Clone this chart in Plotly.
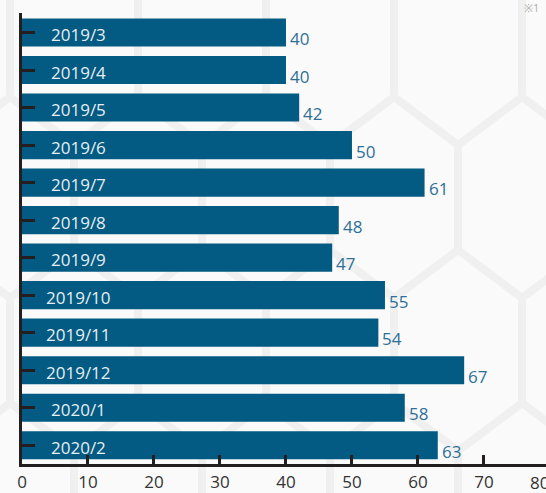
import plotly.graph_objects as go

# ---- data ----
months = ["2019/3", "2019/4", "2019/5", "2019/6", "2019/7", "2019/8",
          "2019/9", "2019/10", "2019/11", "2019/12", "2020/1", "2020/2"]
values = [40, 40, 42, 50, 61, 48, 47, 55, 54, 67, 58, 63]
x_ticks = [0, 10, 20, 30, 40, 50, 60, 70]
extra_tick = 80
note = "※1"

# ---- style ----
W, H = 546, 493
ML, MR, MT, MB = 22, 0, 13, 29
XMAX = 79.4
FONT = "Open Sans"
BAR = "#035a82"
VAL = "#2e6f97"
AX = "#231f20"

fig = go.Figure()
fig.add_trace(go.Bar(
    y=months, x=values, orientation="h",
    marker=dict(color=BAR, line=dict(width=0)),
    width=0.75, hoverinfo="x+y",
))

# category labels inside bars
for m in months:
    fig.add_annotation(x=0, y=m, xref="x", yref="y", text=m, showarrow=False,
                       xanchor="center", yanchor="middle", xshift=56, yshift=-2,
                       font=dict(family=FONT, size=17, color="#e6eef3"))
# value labels
for m, v in zip(months, values):
    fig.add_annotation(x=v, y=m, xref="x", yref="y", text=str(v), showarrow=False,
                       xanchor="left", yanchor="middle", xshift=2, yshift=-6,
                       font=dict(family=FONT, size=17, color=VAL))

# clipped "80" tick label at the right edge (outside the axis range)
fig.add_annotation(x=extra_tick / XMAX, y=0, xref="paper", yref="paper",
                   text=str(extra_tick), showarrow=False, xanchor="center",
                   yanchor="top", yshift=-5, xshift=-10,
                   font=dict(family=FONT, size=17, color="#333333"))
fig.add_annotation(x=1, y=1, xref="paper", yref="paper", text=note, showarrow=False,
                   xanchor="right", yanchor="middle", xshift=-5, yshift=6,
                   font=dict(family=FONT, size=11, color="#aaaaaa"))

# honeycomb background decoration (pixel geometry -> paper coords)
pw = W - ML - MR
ph = H - MT - MB
def P(px, py):
    return (px - ML) / pw, (H - MB - py) / ph

shapes = []
for c in range(-5, 2):
    xa = 522 + 128 * c
    for dirx in (-64, 64):
        pts = []
        y0 = -8 - 306
        for k in range(4):
            yb = y0 + 306 * k
            pts += [(xa, yb), (xa, yb + 105), (xa + dirx, yb + 153),
                    (xa + dirx, yb + 258)]
        path = ""
        for i, (px, py) in enumerate(pts):
            fx, fy = P(px, py)
            path += ("M" if i == 0 else "L") + f"{fx:.4f},{fy:.4f} "
        shapes.append(dict(type="path", path=path, xref="paper", yref="paper",
                           line=dict(color="#f0f0f0", width=8), layer="below"))
fig.update_layout(shapes=shapes)

fig.update_layout(
    width=W, height=H,
    margin=dict(l=ML, r=MR, t=MT, b=MB, pad=0),
    paper_bgcolor="#fafafa", plot_bgcolor="rgba(0,0,0,0)",
    showlegend=False, bargap=0.25,
    font=dict(family=FONT, color="#333333"),
    xaxis=dict(range=[0, XMAX], tickvals=x_ticks, ticks="inside", ticklen=9,
               tickwidth=2.5, tickcolor=AX, showline=True, linewidth=2.5,
               linecolor=AX, showgrid=False, zeroline=False, automargin=False,
               ticklabelstandoff=1,
               tickfont=dict(family=FONT, size=17, color="#333333")),
    yaxis=dict(autorange="reversed", ticks="inside", ticklen=13, tickwidth=2.5,
               tickcolor=AX, showline=True, linewidth=2.5, linecolor=AX,
               showticklabels=False, showgrid=False, zeroline=False,
               automargin=False),
)

fig.write_html(
    "out.html",
    config={"displayModeBar": False},
    post_script="document.body.style.margin='0';document.body.style.overflow='hidden';",
)
